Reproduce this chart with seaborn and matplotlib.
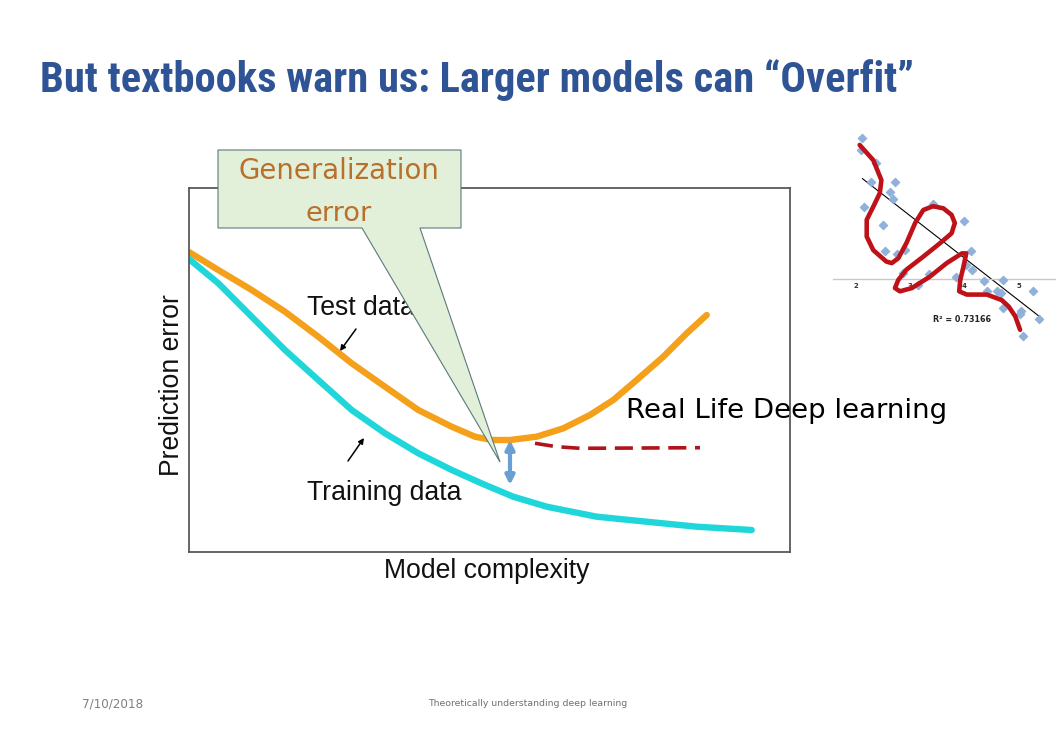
import numpy as np
import pandas as pd
import matplotlib
matplotlib.use("Agg")
import matplotlib.pyplot as plt
import seaborn as sns
from matplotlib.patches import Polygon
from matplotlib import font_manager

# ---------------- data ----------------
# main chart: model complexity (0-100) vs prediction error (0-100)
test_x = [0, 4.88, 10.43, 15.97, 21.51, 27.07, 32.61, 38.15, 43.71, 47.59, 50.37, 53.41, 57.85,
          62.28, 66.72, 70.60, 74.49, 78.92, 82.81, 86.14]
test_y = [82.4, 77.47, 71.98, 66.02, 59.15, 51.84, 45.41, 39.01, 34.42, 31.68, 30.77, 30.77, 31.68,
          33.98, 37.64, 41.76, 47.25, 53.65, 60.08, 65.11]

train_x = [0, 4.88, 10.43, 15.97, 21.51, 27.07, 32.61, 38.15, 43.71, 48.92, 53.96, 59.52, 67.84,
           76.16, 84.48, 93.63]
train_y = [80.49, 73.82, 64.64, 55.49, 47.25, 39.01, 32.61, 27.12, 22.53, 18.68, 15.19, 12.45, 9.70,
           8.32, 6.95, 6.04]

deep_x = [57.57, 61.18, 65.06, 85.02]
deep_y = [29.86, 28.93, 28.49, 28.65]

gap_x = 53.41
gap_top, gap_bottom = 30.77, 18.41

# inset: scatter with linear fit and an overfitting wiggle
pts_x = [2.12, 2.10, 2.37, 2.28, 2.72, 2.63, 2.68, 2.15, 2.50, 3.41, 3.99, 2.54, 2.90, 2.76, 4.12, 4.02,
         4.14, 2.86, 3.34, 3.84, 4.36, 4.71, 3.15, 4.41, 4.59, 4.67, 5.25, 4.70, 5.04, 5.02, 5.37, 5.07]
pts_y = [2.60, 2.38, 2.14, 1.78, 1.79, 1.61, 1.47, 1.33, 0.99, 1.38, 1.07, 0.52, 0.53, 0.45, 0.52, 0.26,
         0.17, 0.10, 0.09, 0.04, -0.04, -0.02, -0.11, -0.23, -0.22, -0.26, -0.22, -0.53, -0.59, -0.65, -0.74, -1.06]

trend_x = [2.12, 5.37]
trend_y = [1.85, -0.69]

wig_x = [2.07, 2.32, 2.47, 2.44, 2.32, 2.20, 2.20, 2.32, 2.56, 2.66, 2.78, 2.93, 3.09, 3.24, 3.42, 3.61,
         3.76, 3.82, 3.76, 3.55, 3.24, 2.93, 2.78, 2.72, 2.81, 3.03, 3.36, 3.67, 3.95, 4.03, 3.98, 3.92,
         3.90, 4.04, 4.41, 4.68, 4.81, 4.93, 5.02]
wig_y = [2.47, 2.19, 1.82, 1.58, 1.33, 1.09, 0.78, 0.53, 0.32, 0.29, 0.38, 0.66, 1.03, 1.27, 1.34, 1.30,
         1.18, 1.03, 0.84, 0.66, 0.41, 0.17, -0.02, -0.17, -0.23, -0.17, 0.04, 0.29, 0.47, 0.47, 0.23, -0.02,
         -0.23, -0.29, -0.29, -0.39, -0.51, -0.69, -0.94]
inset_ticks = [2, 3, 4, 5]
r2_text = "R² = 0.73166"

# ---------------- figure ----------------
sns.set_theme(style="white")
plt.rcParams["font.family"] = ["DejaVu Sans"]

available = {f.name for f in font_manager.fontManager.ttflist}
narrow = next((n for n in ["Roboto Condensed", "Liberation Sans Narrow", "Open Sans Condensed",
                           "Noto Sans Condensed", "DejaVu Sans"] if n in available), "DejaVu Sans")
arial = "Liberation Sans" if "Liberation Sans" in available else "DejaVu Sans"
gothic = "DejaVu Sans"

W, H = 1056, 739
fig = plt.figure(figsize=(W / 100, H / 100), dpi=100)
fig.patch.set_facecolor("white")


def fx(px):
    return px / W


def fy(py):
    return 1 - py / H


fit_list = []  # (text artist, target width in px)

# title
t_title = fig.text(fx(40), fy(80), "But textbooks warn us: Larger models can \u201cOverfit\u201d",
                   family=[narrow, "DejaVu Sans"], fontweight="heavy", fontstretch="condensed",
                   fontsize=27, color="#2f5496", ha="left", va="center")
fit_list.append((t_title, 876))

# main axes
ax = fig.add_axes([fx(189), fy(552), fx(790) - fx(189), fy(188) - fy(552)])
ax.set_xlim(0, 100)
ax.set_ylim(0, 100)
sns.lineplot(x=test_x, y=test_y, ax=ax, color="#f5a01a", lw=4.6, sort=False,
             estimator=None, solid_capstyle="round", solid_joinstyle="round")
sns.lineplot(x=train_x, y=train_y, ax=ax, color="#1fd6da", lw=4.6, sort=False,
             estimator=None, solid_capstyle="round", solid_joinstyle="round")
sns.lineplot(x=deep_x, y=deep_y, ax=ax, color="#b01319", lw=2.6, sort=False,
             estimator=None, dashes=False, linestyle=(0, (5, 2.4)))
ax.annotate("", xy=(gap_x, gap_bottom), xytext=(gap_x, gap_top),
            arrowprops=dict(arrowstyle="<|-|>", color="#6a9fd4", lw=3, mutation_scale=13,
                            shrinkA=0, shrinkB=0))
ax.set_xticks([])
ax.set_yticks([])
for s in ax.spines.values():
    s.set_color("#595959")
    s.set_linewidth(1.3)

lab_font = dict(family=[arial, "DejaVu Sans"], fontsize=19.2, color="#111111")
fig.text(fx(487), fy(571), "Model complexity", ha="center", va="center", **lab_font)
fig.text(fx(172), fy(385), "Prediction error", ha="center", va="center", rotation=90, **lab_font)

# curve labels
fig.text(fx(307), fy(308), "Test data", ha="left", va="center", **lab_font)
fig.text(fx(307), fy(493), "Training data", ha="left", va="center", **lab_font)
ax.annotate("", xy=(fx(340), fy(351)), xytext=(fx(356), fy(329)), xycoords="figure fraction",
            textcoords="figure fraction",
            arrowprops=dict(arrowstyle="-|>", color="black", lw=1.1, mutation_scale=8, shrinkA=0, shrinkB=0))
ax.annotate("", xy=(fx(364), fy(438)), xytext=(fx(348), fy(461)), xycoords="figure fraction",
            textcoords="figure fraction",
            arrowprops=dict(arrowstyle="-|>", color="black", lw=1.1, mutation_scale=8, shrinkA=0, shrinkB=0))

# callout
callout_px = [(218, 150), (461, 150), (461, 228), (420, 228), (500, 462), (362, 228), (218, 228)]
poly = Polygon([(fx(a), fy(b)) for a, b in callout_px], closed=True, transform=fig.transFigure,
               facecolor="#e2efd9", edgecolor="#5b7a7a", lw=0.8, zorder=5)
fig.add_artist(poly)
t_gen = fig.text(fx(339), fy(171), "Generalization", ha="center", va="center", fontsize=19,
                 family=[gothic], color="#b8702c", zorder=6)
fig.text(fx(339), fy(214), "error", ha="center", va="center", fontsize=19.6,
         family=[gothic], color="#b8702c", zorder=6)
fit_list.append((t_gen, 201))

# real life text
t_real = fig.text(fx(626), fy(411), "Real Life Deep learning", ha="left", va="center", fontsize=19.5,
                  family=[gothic], color="black", zorder=6)
fit_list.append((t_real, 320))

# inset
ax2 = fig.add_axes([fx(833), fy(345), fx(1056) - fx(833), fy(120) - fy(345)])
ax2.set_xlim(1.58, 5.68)
ax2.set_ylim(-1.22, 2.93)
ax2.patch.set_alpha(0)
sns.lineplot(x=trend_x, y=trend_y, ax=ax2, color="black", lw=0.8, estimator=None, zorder=2)
sns.scatterplot(x=pts_x, y=pts_y, ax=ax2, marker="D", s=22, color="#8fb1dc",
                edgecolor="#7ea3d2", linewidth=0.3, zorder=3)
sns.lineplot(x=wig_x, y=wig_y, ax=ax2, color="#bf1218", lw=3.3, sort=False, estimator=None,
             solid_capstyle="round", solid_joinstyle="round", zorder=4)
for k in ["top", "right", "left"]:
    ax2.spines[k].set_visible(False)
ax2.spines["bottom"].set_position(("data", 0))
ax2.spines["bottom"].set_color("#c8c8c8")
ax2.spines["bottom"].set_linewidth(1)
ax2.set_yticks([])
ax2.set_xticks(inset_ticks)
ax2.set_xticklabels([str(t) for t in inset_ticks], fontsize=5, fontweight="bold", color="#333333")
ax2.tick_params(axis="x", length=0, pad=3)
ax2.text(3.95, -0.755, r2_text, fontsize=5.8, fontweight="bold", ha="center", va="center",
         color="#222222")

# footer
t_date = fig.text(fx(82), fy(704), "7/10/2018", ha="left", va="center", fontsize=8.5, color="#808080")
t_foot = fig.text(fx(428), fy(704), "Theoretically understanding deep learning", ha="left", va="center",
                  fontsize=6.7, color="#707070")
fit_list.append((t_date, 61))
fit_list.append((t_foot, 199))

# scale chosen texts to the widths seen in the reference
fig.canvas.draw()
renderer = fig.canvas.get_renderer()
for txt, target in fit_list:
    w = txt.get_window_extent(renderer).width
    if w > 0:
        txt.set_fontsize(txt.get_fontsize() * target / w)

fig.savefig("out.png", dpi=100, facecolor="white")
